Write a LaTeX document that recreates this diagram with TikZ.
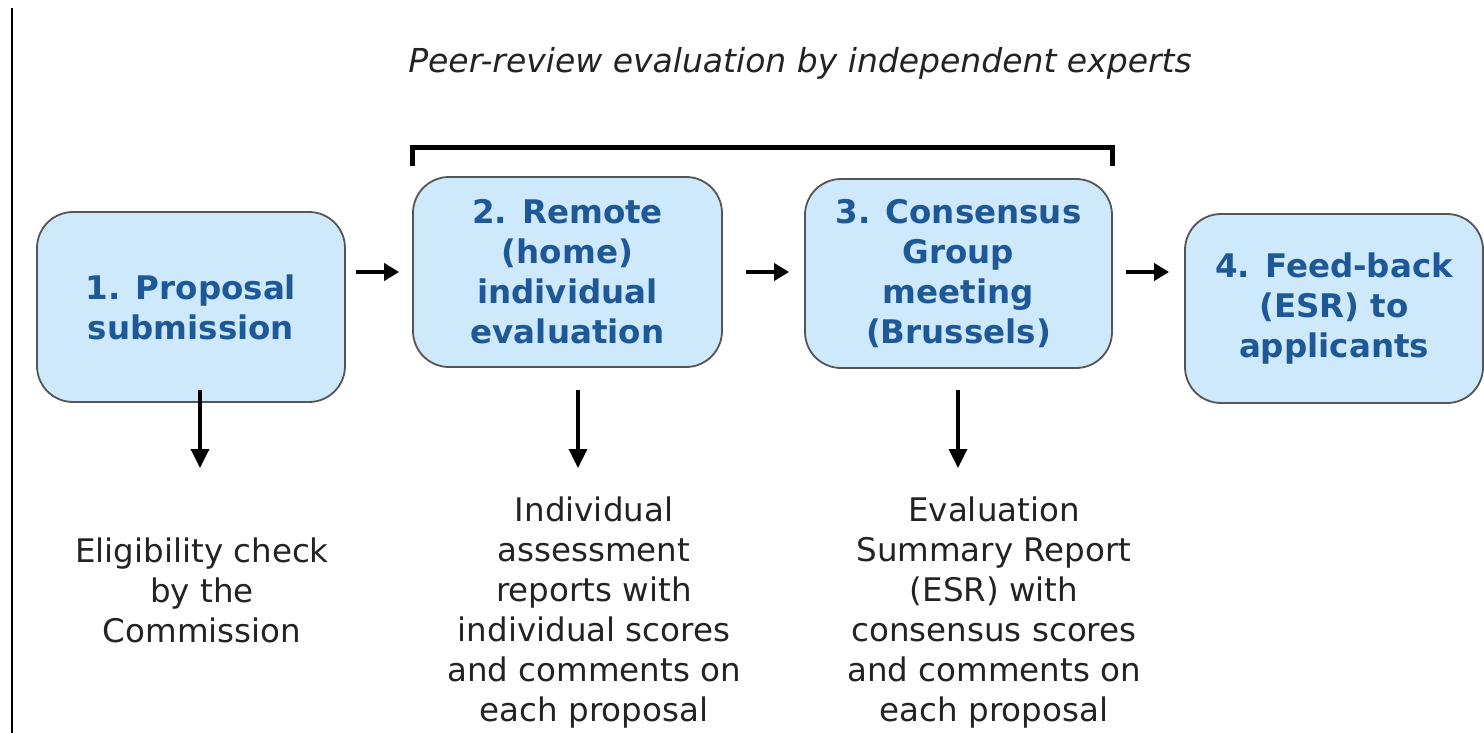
\documentclass[tikz,border=0pt]{standalone}
\usepackage{fontspec}
\setmainfont{DejaVu Sans}
\usetikzlibrary{arrows.meta,calc}
\definecolor{boxfill}{RGB}{205,233,251}
\definecolor{boxtext}{RGB}{30,88,150}
\definecolor{boxline}{RGB}{85,85,85}
\definecolor{notetext}{RGB}{35,35,35}
\begin{document}
\begin{tikzpicture}[x=1pt,y=-1pt,
  stage/.style={draw=boxline, line width=1.8pt, fill=boxfill, rounded corners=36pt,
    text=boxtext, font=\fontsize{32.5}{40}\selectfont\bfseries, align=center, inner sep=0pt},
  note/.style={font=\fontsize{32.5}{40}\selectfont, text=notetext, align=center, inner sep=0pt},
  harrow/.style={line width=4.5pt, -{Triangle[length=15pt,width=17pt]}},
  varrow/.style={line width=3.5pt, -{Triangle[length=19pt,width=18pt]}},
  bracketline/.style={line width=5pt}]
\useasboundingbox (0,0) rectangle (1484,733);
\fill[white] (0,0) rectangle (1484,733);
\draw[line width=2pt] (12,8) -- (12,733);
\node[font=\fontsize{33}{40}\selectfont\itshape, text=notetext] (title) at (800,63) {Peer-review evaluation by independent experts};
\node[stage, minimum width=308pt, minimum height=190pt] (s1) at (191,307) {1. Proposal\\submission};
\node[stage, minimum width=309pt, minimum height=190pt] (s2) at (567.5,272) {2. Remote\\(home)\\individual\\evaluation};
\node[stage, minimum width=307pt, minimum height=189pt] (s3) at (958.5,273.5) {3. Consensus\\Group\\meeting\\(Brussels)};
\node[stage, minimum width=298pt, minimum height=189pt] (s4) at (1334,308.5) {4. Feed-back\\(ESR) to\\applicants};
% bracket
\draw[bracketline] ($(s2.north west)+(0,-10)$) -- ($(s2.north west)+(0,-29)$) -- ($(s3.north east)+(0,-31)$) -- ($(s3.north east)+(0,-12)$);
% horizontal arrows
\draw[harrow] ($(s1.east |- s2.west)+(10,0)$) -- ($(s2.west)+(-13,0)$);
\draw[harrow] ($(s2.east)+(23,0)$) -- ($(s3.west |- s2.east)+(-15,0)$);
\draw[harrow] ($(s3.east |- s2.east)+(13,0)$) -- ($(s4.west |- s2.east)+(-15,0)$);
% notes
\node[note] (n1) at (202,590) {Eligibility check\\by the\\Commission};
\node[note] (n2) at (594,613) {Individual\\assessment\\reports with\\individual scores\\and comments on\\each proposal};
\node[note] (n3) at (994,613) {Evaluation\\Summary Report\\(ESR) with\\consensus scores\\and comments on\\each proposal};
% vertical arrows
\draw[varrow] (200,390) coordinate (a1) -- (200,468);
\draw[varrow] (578,390) coordinate (a2) -- (578,468);
\draw[varrow] (958,390) coordinate (a3) -- (958,468);
\end{tikzpicture}
\end{document}
